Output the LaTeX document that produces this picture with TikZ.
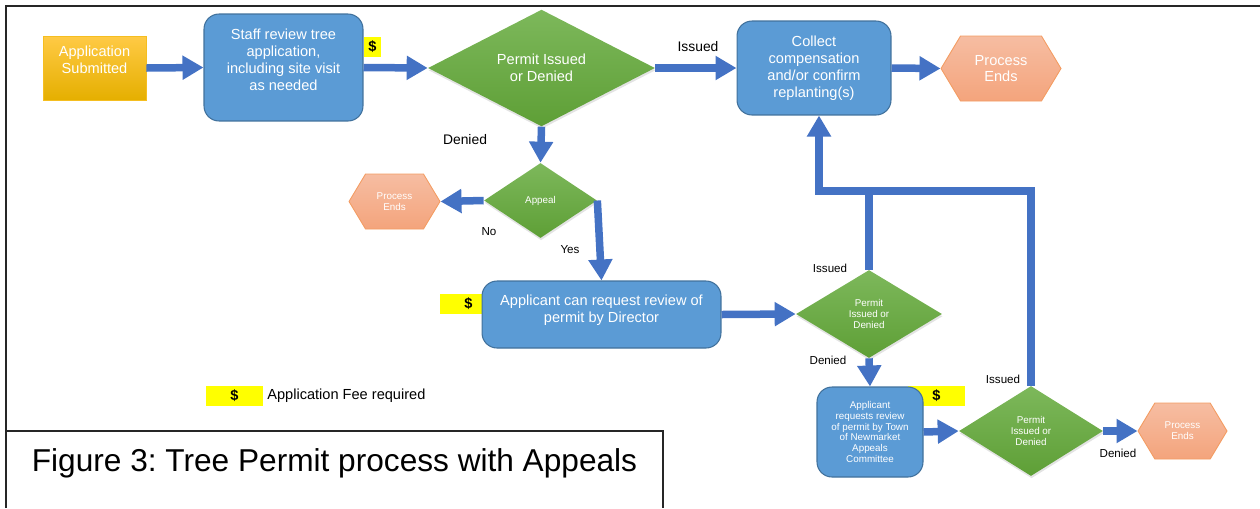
\documentclass[tikz,border=0pt]{standalone}
\usepackage{fontspec}
\setmainfont{Liberation Sans}
\usetikzlibrary{shapes.geometric,shapes.symbols,arrows.meta,shadows,calc}
\definecolor{boxblue}{HTML}{5B9BD5}
\definecolor{boxedge}{HTML}{41719C}
\definecolor{arrblue}{HTML}{4472C4}
\definecolor{greentop}{HTML}{7DB85B}
\definecolor{greenbot}{HTML}{5E9F36}
\definecolor{goldtop}{HTML}{FFCA45}
\definecolor{goldbot}{HTML}{E5AF00}
\definecolor{goldedge}{HTML}{F5BE20}
\definecolor{orgtop}{HTML}{F6BDA2}
\definecolor{orgbot}{HTML}{F4A47C}
\definecolor{orgedge}{HTML}{F39C62}
\definecolor{feeyellow}{HTML}{FFFF00}
\newcommand{\txtmain}{\fontsize{8.3}{9.6}\selectfont}
\newcommand{\txtsmall}{\fontsize{5.6}{6.2}\selectfont}
\newcommand{\txtlab}{\fontsize{6.6}{8}\selectfont}
\newcommand{\txtlabb}{\fontsize{7.9}{9}\selectfont}
\newcommand{\txtcap}{\fontsize{18}{21}\selectfont}
\tikzset{
  inner/.style={text=white, align=center, inner sep=0pt},
  appbox/.style={rectangle, draw=goldedge, line width=0.5pt, top color=goldtop, bottom color=goldbot, inner sep=0pt},
  bluebox/.style={rectangle, draw=boxedge, line width=0.6pt, fill=boxblue, rounded corners=0.3cm, text=white, align=center, inner sep=0pt},
  dia/.style={diamond, top color=greentop, bottom color=greenbot, text=white, align=center, inner sep=0pt,
    drop shadow={opacity=0.22, shadow xshift=0.3pt, shadow yshift=-1.3pt}},
  hexa/.style={signal, signal to=east and west, signal pointer angle=118, draw=orgedge, line width=0.5pt,
    top color=orgtop, bottom color=orgbot, text=white, align=center, inner sep=0pt},
  fee/.style={rectangle, fill=feeyellow, inner sep=0pt, font=\txtmain\bfseries, text=black},
  arr/.style={draw=arrblue, line width=0.15cm, line join=miter, -{Triangle[length=0.42cm,width=0.46cm]}},
  conn/.style={draw=arrblue, line width=0.15cm, line join=miter},
  lab/.style={font=\txtlab, text=black, inner sep=0pt},
  labb/.style={font=\txtlabb, text=black, inner sep=0pt},
}
\begin{document}
\frenchspacing
\begin{tikzpicture}[x=0.02cm, y=-0.02cm]
\useasboundingbox (0,0) rectangle (1260,508);
% frame
\draw[line width=1.1pt, black!85] (6,508) -- (6,6) -- (1260,6);
\draw[line width=0.8pt, black!85] (6,431) -- (663,431) -- (663,508);

% fee markers (behind boxes)
\node[fee, minimum width=0.34cm, minimum height=0.4cm] (fee1) at (372.5,47) {\$};
\node[fee, minimum width=1.14cm, minimum height=0.4cm] (fee2) at (468.5,304) {\$};
\node[fee, minimum width=1.14cm, minimum height=0.4cm] (fee3) at (936.5,396) {\$};

% main nodes
\node[appbox, minimum width=2.06cm, minimum height=1.28cm,
  label={[inner, font=\txtmain, yshift=0.16cm]center:Application\\Submitted}] (app) at (94.5,68) {};
\node[bluebox, minimum width=3.18cm, minimum height=2.14cm,
  label={[inner, font=\txtmain, yshift=0.15cm]center:Staff review tree\\application,\\including site visit\\as needed}] (staff) at (283.5,67.5) {};
\node[dia, minimum width=4.54cm, minimum height=2.24cm, font=\txtmain] (d1) at (541.5,68) {Permit Issued\\or Denied};
\node[bluebox, minimum width=3.08cm, minimum height=1.88cm, font=\txtmain] (collect) at (814,68) {Collect\\compensation\\and/or confirm\\replanting(s)};
\node[hexa, minimum width=2.4cm, minimum height=1.3cm, font=\txtmain] (pe1) at (1001,68.5) {Process\\Ends};
\node[dia, minimum width=2.26cm, minimum height=1.5cm, font=\txtsmall] (appeal) at (540.5,200.5) {Appeal};
\node[hexa, minimum width=1.82cm, minimum height=1.1cm, font=\txtsmall] (pe2) at (394.5,201.5) {Process\\Ends};
\node[bluebox, minimum width=4.78cm, minimum height=1.34cm,
  label={[inner, font=\txtmain, yshift=0.09cm]center:Applicant can request review of\\permit by Director}] (director) at (601.5,314.5) {};
\node[dia, minimum width=2.92cm, minimum height=1.76cm, font=\txtsmall] (d2) at (869,314) {Permit\\Issued or\\Denied};
\node[bluebox, minimum width=2.12cm, minimum height=1.8cm, font=\txtsmall] (town) at (870,432) {Applicant\\requests review\\of permit by Town\\of Newmarket\\Appeals\\Committee};
\node[dia, minimum width=2.88cm, minimum height=1.8cm, font=\txtsmall] (d3) at (1031,431) {Permit\\Issued or\\Denied};
\node[hexa, minimum width=1.78cm, minimum height=1.12cm, font=\txtsmall] (pe3) at (1182.5,431) {Process\\Ends};

% connectors
\draw[arr] (app.east) -- (staff.east -| staff.west);
\draw[arr] (staff.east) -- (d1.west);
\draw[arr] (d1.east) -- (collect.west);
\draw[arr] (collect.east) -- (pe1.west);
\draw[arr] (d1.south) -- (appeal.north);
\draw[arr] (appeal.west) -- (pe2.east);
\draw[arr] (appeal.east) -- (director.north);
\draw[arr] (director.east) -- (d2.west);
\draw[arr] (d2.south) -- (town.north);
\draw[arr] (town.east) -- (d3.west);
\draw[arr] (d3.east) -- (pe3.west);
\coordinate (jl) at (819,191);
\draw[arr] (d3.north) -- (d3.north |- jl) -- (jl) -- (jl |- collect.south);
\draw[conn] (d2.north) -- (d2.north |- jl);

% connector labels
\node[labb] (l1) at (698,47) {Issued};
\node[labb] (l2) at (465,140) {Denied};
\node[lab] (l3) at (489,232) {No};
\node[lab] (l4) at (570,250) {Yes};
\node[lab] (l5) at (830,268) {Issued};
\node[lab] (l6) at (828,360) {Denied};
\node[lab] (l7) at (1003,379) {Issued};
\node[lab] (l8) at (1118,453) {Denied};

% legend
\node[fee, minimum width=1.14cm, minimum height=0.4cm] (legfee) at (234.5,396) {\$};
\node[anchor=west, font=\txtmain, inner sep=0pt] (legtxt) at (267,396) {Application Fee required};

% caption
\node[anchor=base, font=\txtcap, inner sep=0pt] (cap) at (334.5,471) {Figure 3: Tree Permit process with Appeals};
\end{tikzpicture}
\end{document}
